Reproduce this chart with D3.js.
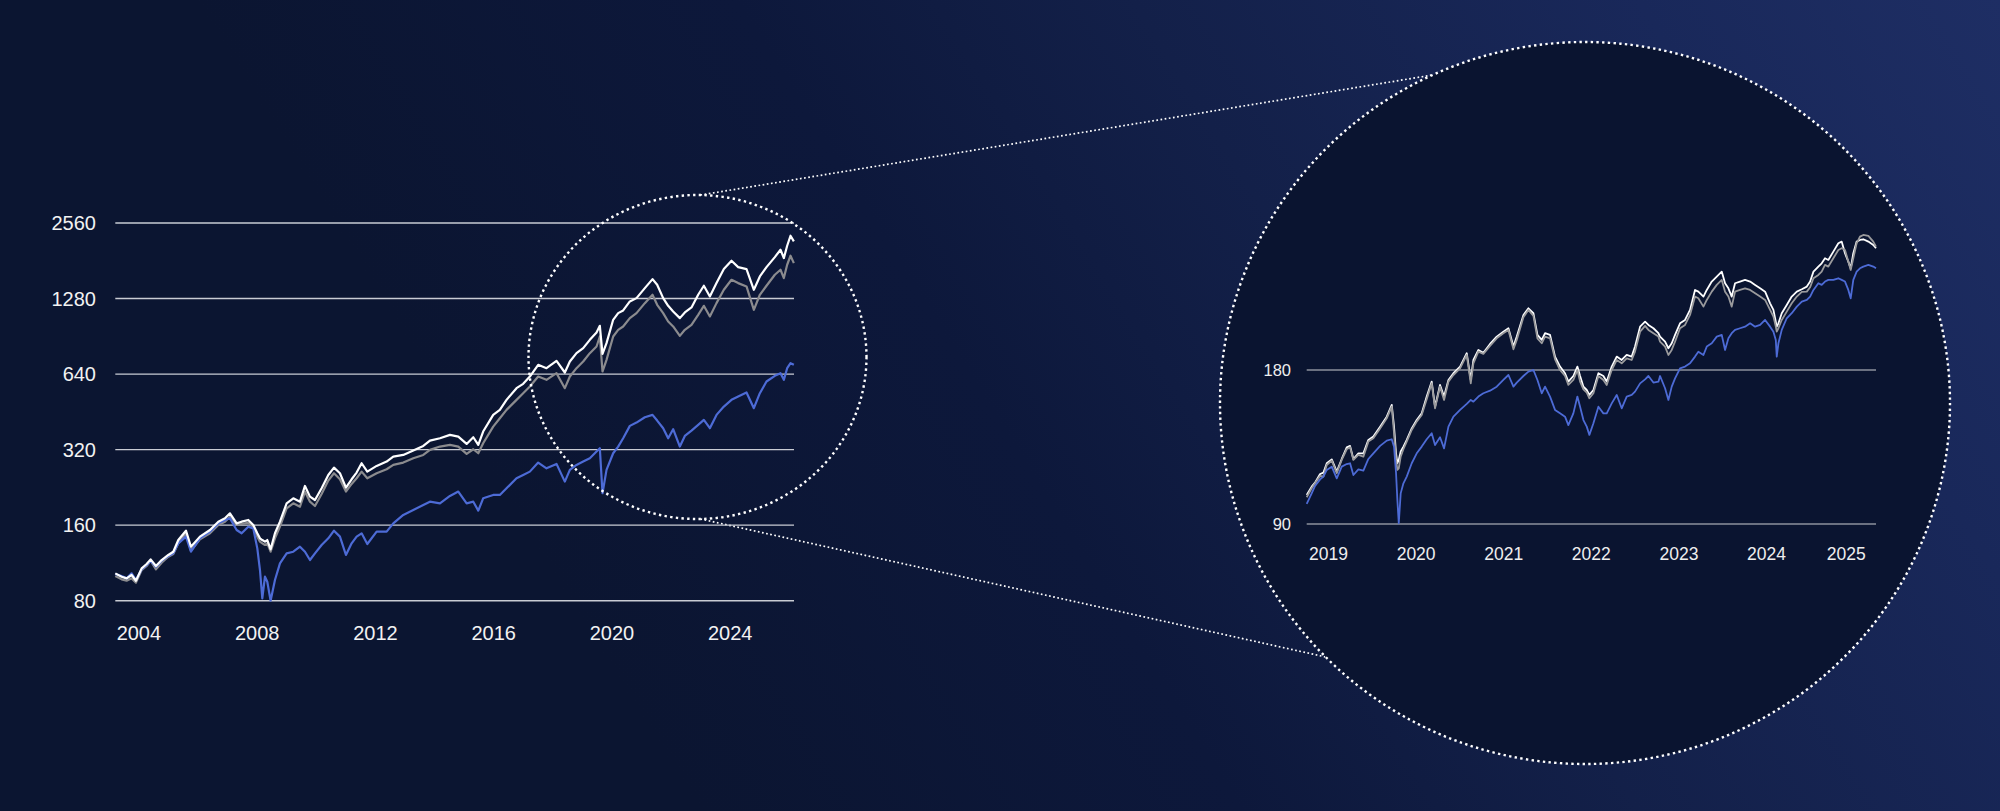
<!DOCTYPE html>
<html><head><meta charset="utf-8">
<script src="https://cdn.jsdelivr.net/npm/d3@7"></script>
<style>html,body{margin:0;padding:0;background:#0b1531;overflow:hidden}svg{display:block}</style>
</head><body><svg id="c" width="2000" height="811"></svg>
<script>
// ---------- MAIN CHART DATA (decimal year position, values on log scale) ----------
const mainYears = [2003.955,2004.169,2004.338,2004.507,2004.654,2004.846,2005.015,2005.150,2005.330,2005.522,
2005.747,2005.917,2006.086,2006.345,2006.514,2006.818,2007.157,2007.439,2007.664,2007.833,
2008.059,2008.228,2008.453,2008.622,2008.758,2008.848,2008.927,2009.017,2009.096,2009.208,
2009.355,2009.524,2009.750,2009.975,2010.201,2010.370,2010.539,2010.708,2010.933,2011.159,
2011.351,2011.553,2011.756,2011.948,2012.117,2012.286,2012.478,2012.794,2013.132,2013.357,
2013.695,2014.034,2014.372,2014.597,2014.936,2015.274,2015.556,2015.838,2016.063,2016.232,
2016.397,2016.736,2016.961,2017.187,2017.525,2017.750,2017.976,2018.258,2018.539,2018.878,
2019.159,2019.329,2019.554,2019.780,2020.005,2020.231,2020.343,2020.433,2020.569,2020.794,
2020.963,2021.132,2021.358,2021.583,2021.865,2022.125,2022.282,2022.485,2022.654,2022.823,
2023.049,2023.218,2023.443,2023.669,2023.861,2024.064,2024.289,2024.537,2024.796,2025.022,
2025.304,2025.552,2025.755,2025.980,2026.262,2026.454,2026.566,2026.679,2026.792,2026.905];
const mainWhite = [102.8,99.7,98.2,101.3,96.1,107.6,112.0,116.9,110.0,116.2,
121.7,125.4,139.6,152.1,131.3,144.0,153.1,165.2,170.4,178.4,
162.7,165.2,167.8,160.3,148.5,141.8,139.6,137.5,139.6,128.2,
148.5,165.2,195.5,204.7,198.5,229.3,207.9,201.6,224.4,253.6,
271.3,257.6,225.8,243.8,259.2,282.4,261.5,275.6,286.7,300.2,
304.8,317.2,331.1,347.7,355.2,366.3,360.7,337.2,358.5,334.1,
377.7,440.1,460.8,505.2,562.3,585.1,625.8,696.7,675.6,722.8,
649.3,718.3,775.4,811.8,876.4,937.5,996.7,770.7,849.9,1053.1,
1119.6,1147.3,1246.1,1285.0,1408.6,1529.9,1452.3,1285.0,1197.5,1136.8,
1069.4,1126.4,1179.3,1324.9,1439.1,1304.8,1474.7,1677.0,1810.4,1708.2,
1677.0,1387.2,1567.8,1708.2,1872.4,2002.8,1855.3,2077.7,2277.5,2162.0];
const mainGrey = [100.3,97.3,96.1,98.2,94.4,106.0,110.0,115.5,106.7,113.4,
119.8,122.8,135.4,148.5,126.6,140.5,148.5,160.3,165.2,173.0,
160.3,161.7,163.7,156.9,144.0,137.5,135.4,133.4,135.4,125.4,
141.8,157.8,186.8,195.5,189.6,217.7,198.5,190.8,213.0,240.8,
257.6,243.8,217.7,233.5,246.0,261.5,246.0,257.6,267.2,278.1,
284.1,295.6,304.8,319.2,329.1,334.1,329.1,307.6,321.1,309.5,
339.3,395.4,426.9,460.8,505.2,537.1,571.0,625.8,607.0,645.3,
562.3,625.8,675.6,718.3,775.4,824.3,903.6,655.2,729.4,903.6,
960.8,990.6,1069.4,1119.6,1227.2,1324.9,1208.5,1119.6,1037.1,990.6,
909.1,960.8,1005.9,1102.5,1197.5,1085.8,1227.2,1387.2,1520.5,1474.7,
1430.3,1154.3,1324.9,1439.1,1591.9,1666.8,1544.0,1745.2,1895.5,1772.1];
const mainBlue = [102.2,100.3,98.2,102.8,96.7,106.7,111.0,115.5,109.3,115.5,
120.6,123.5,135.4,144.0,125.4,141.8,150.8,162.7,167.8,170.4,
153.1,148.5,157.8,155.4,129.3,106.0,81.7,99.7,95.2,80.0,
96.7,112.7,123.5,125.4,131.3,125.4,116.2,123.5,133.4,141.8,
152.1,144.0,121.7,135.4,144.0,148.5,134.6,150.8,150.8,162.7,
175.7,183.9,192.6,198.5,195.5,209.2,217.7,195.5,198.5,182.8,
204.7,211.1,211.1,224.4,246.0,253.6,261.5,284.1,269.6,280.7,
238.6,265.6,278.1,286.7,295.6,314.3,324.1,214.4,265.6,309.5,
329.1,355.2,397.9,410.2,430.8,440.1,417.8,389.4,355.2,385.9,
329.1,362.9,381.2,401.5,420.4,389.4,440.1,475.1,505.2,520.9,
540.4,467.9,537.1,597.8,629.7,645.3,607.0,675.6,707.4,696.7];
const mainYTicks = [80,160,320,640,1280,2560];
const mainXTicks = [2004,2008,2012,2016,2020,2024];

// ---------- ZOOM CHART DATA (rebased to 100) ----------
const zoomYears = [2018.973,2019.030,2019.068,2019.126,2019.164,2019.202,2019.259,2019.316,2019.373,2019.430,
2019.468,2019.506,2019.563,2019.620,2019.677,2019.734,2019.811,2019.887,2019.944,2019.970,
2019.993,2020.008,2020.024,2020.046,2020.077,2020.115,2020.172,2020.229,2020.286,2020.343,
2020.400,2020.438,2020.495,2020.541,2020.591,2020.648,2020.724,2020.800,2020.846,2020.876,
2020.933,2020.990,2021.066,2021.142,2021.218,2021.276,2021.333,2021.371,2021.447,2021.504,
2021.561,2021.607,2021.656,2021.694,2021.751,2021.808,2021.865,2021.922,2021.960,2022.017,
2022.063,2022.094,2022.132,2022.170,2022.200,2022.246,2022.303,2022.360,2022.398,2022.455,
2022.512,2022.569,2022.626,2022.683,2022.721,2022.779,2022.836,2022.874,2022.931,2022.988,
2023.007,2023.064,2023.102,2023.140,2023.178,2023.235,2023.292,2023.349,2023.406,2023.444,
2023.502,2023.540,2023.597,2023.654,2023.711,2023.749,2023.787,2023.825,2023.863,2023.920,
2023.977,2024.035,2024.092,2024.149,2024.206,2024.263,2024.301,2024.328,2024.339,2024.358,
2024.396,2024.453,2024.510,2024.568,2024.625,2024.682,2024.720,2024.758,2024.814,2024.852,
2024.890,2024.928,2024.985,2025.042,2025.080,2025.118,2025.156,2025.183,2025.213,2025.251,
2025.289,2025.327,2025.385,2025.441,2025.472];
const zoomWhite = [102.6,106.5,108.4,112.7,113.4,118.3,120.4,113.9,120.6,127.1,
127.9,120.6,123.7,123.7,131.4,133.4,139.5,145.9,153.8,139.5,
123.7,118.3,120.1,124.7,127.5,131.4,138.4,143.7,148.1,159.7,
170.8,152.6,168.3,159.7,172.1,177.4,182.8,194.1,172.1,188.3,
197.0,194.6,202.4,209.2,213.9,217.2,200.0,209.2,230.6,237.6,
232.4,210.8,206.1,212.4,210.8,191.2,182.8,177.4,170.8,175.2,
182.8,175.2,167.0,164.5,160.9,164.5,177.4,175.2,170.8,182.8,
191.2,188.3,192.6,191.2,200.0,218.8,223.8,220.5,217.2,212.4,
209.2,204.5,198.5,203.0,210.8,222.1,225.5,235.9,258.1,256.1,
250.5,258.1,268.0,274.1,280.3,266.0,260.0,250.5,266.0,268.0,
270.0,268.0,264.0,260.0,256.1,243.0,235.9,223.8,218.8,222.1,
232.4,241.2,250.5,256.1,258.9,262.0,268.0,280.3,286.7,291.0,
297.6,295.4,306.7,318.4,320.8,304.4,293.2,284.5,304.4,320.8,
323.2,324.2,320.8,316.0,311.4];
const zoomGrey = [101.5,105.7,108.1,111.7,111.4,117.4,119.7,113.1,120.1,126.0,
127.1,120.1,122.8,121.9,130.4,132.4,138.4,144.8,152.6,135.4,
120.1,114.8,115.6,121.9,126.0,130.4,137.4,142.7,147.0,157.8,
169.5,151.5,167.0,157.3,170.8,176.0,181.4,192.6,169.5,185.5,
195.5,193.5,200.6,207.6,212.4,215.6,197.6,206.1,228.2,235.9,
229.6,207.6,203.0,209.2,207.6,188.9,180.0,175.2,168.3,172.1,
180.0,170.8,165.0,162.6,158.5,162.1,175.2,172.1,168.3,180.0,
188.3,185.5,189.7,188.3,195.5,213.9,219.5,215.6,212.4,209.2,
204.5,200.0,192.6,197.0,204.5,217.2,220.5,230.6,250.5,248.6,
239.4,246.7,256.1,264.0,270.0,256.1,250.5,239.4,256.1,258.1,
260.0,258.1,254.2,250.5,246.7,235.9,228.9,218.8,213.9,217.2,
225.5,234.1,243.0,250.5,255.8,256.1,261.2,272.0,276.1,280.3,
288.9,286.7,297.6,309.0,311.4,309.0,293.2,282.4,297.6,318.4,
328.1,330.6,329.1,320.8,313.7];
const zoomBlue = [98.5,103.3,106.8,110.0,111.4,114.8,116.5,110.5,116.5,117.9,
118.3,112.2,115.1,114.4,120.6,123.7,127.9,131.0,131.8,127.5,
113.1,100.3,90.3,103.3,108.1,111.4,118.3,123.7,127.5,131.8,
135.4,128.4,133.0,126.5,139.5,145.9,150.4,154.5,157.3,156.1,
159.7,162.1,164.0,167.0,172.1,176.0,167.0,170.1,175.2,178.7,
180.0,172.1,162.1,167.0,159.7,150.4,148.1,145.9,140.5,148.1,
159.7,152.6,143.7,139.5,134.4,141.6,152.6,148.1,148.1,154.9,
160.9,151.5,159.7,160.9,163.3,169.5,172.6,175.2,170.1,170.8,
175.2,165.8,157.3,167.0,173.4,181.4,182.8,185.5,191.2,195.5,
192.6,200.0,203.0,209.2,210.8,197.0,207.6,212.4,215.6,217.2,
218.8,222.1,218.8,220.5,225.5,218.8,213.9,206.1,191.2,203.0,
215.6,227.2,232.4,239.4,244.9,246.7,250.5,258.1,266.0,264.0,
268.0,270.0,270.0,272.0,270.0,268.0,258.1,248.6,270.0,280.3,
284.5,286.7,288.9,286.7,284.5];
const zoomYTicks = [90,180];
const zoomXTickPos = [2019,2020,2021,2022,2023,2024,2024.91];
const zoomXTickLabels = ["2019","2020","2021","2022","2023","2024","2025"];

// ---------- STYLE / LAYOUT ----------
const W = 2000, H = 811;
const FONT = "'Helvetica Neue', Helvetica, 'Liberation Sans', Arial, sans-serif";
const COL_WHITE = "#ffffff", COL_GREY = "#8b8b8e", COL_BLUE = "#4d6bd6";

const svg = d3.select("#c");
const defs = svg.append("defs");
const bg = defs.append("linearGradient").attr("id","bg")
  .attr("gradientUnits","userSpaceOnUse").attr("x1",700).attr("y1",811).attr("x2",2000).attr("y2",0);
[[0,"#0b1531"],[0.3,"#0d183b"],[0.52,"#132049"],[0.8,"#19285a"],[1,"#1e2e64"]]
  .forEach(([o,c])=>bg.append("stop").attr("offset",o).attr("stop-color",c));
svg.append("rect").attr("width",W).attr("height",H).attr("fill","url(#bg)");

// big zoom circle geometry
const big = {cx:1585, cy:403, rx:365, ry:361};
const small = {cx:697.5, cy:357, rx:169, ry:162};
const onEllipse = (e, deg) => [e.cx + e.rx*Math.cos(deg*Math.PI/180), e.cy + e.ry*Math.sin(deg*Math.PI/180)];

// connector lines
const connectors = [[onEllipse(small,-89), onEllipse(big,-114.7)], [onEllipse(small,89), onEllipse(big,135.3)]];
svg.selectAll(".conn").data(connectors).join("line").attr("class","conn")
  .attr("x1",d=>d[0][0]).attr("y1",d=>d[0][1]).attr("x2",d=>d[1][0]).attr("y2",d=>d[1][1])
  .attr("stroke","#ffffff").attr("stroke-width",1.7).attr("stroke-dasharray","1.7 2.5");

// big circle background
svg.append("ellipse").attr("cx",big.cx).attr("cy",big.cy).attr("rx",big.rx).attr("ry",big.ry)
  .attr("fill","#0a1430");

// ---------- MAIN CHART ----------
const mx = d3.scaleLinear().domain([2003.955, 2026.91]).range([115.3, 794]);
const my = d3.scaleLog().base(2).domain([80, 2560]).range([600.7, 223]);
const gMain = svg.append("g");
gMain.selectAll(".mgrid").data(mainYTicks).join("line")
  .attr("x1",mx.range()[0]).attr("x2",mx.range()[1])
  .attr("y1",d=>my(d)).attr("y2",d=>my(d))
  .attr("stroke","#c9ccd4").attr("stroke-width",1.4);
gMain.selectAll(".mylab").data(mainYTicks).join("text")
  .attr("x",96).attr("y",d=>my(d)).attr("dy","0.35em").attr("text-anchor","end")
  .attr("fill","#f2f2f2").attr("font-family",FONT).attr("font-size",20).text(d=>d);
gMain.selectAll(".mxlab").data(mainXTicks).join("text")
  .attr("x",d=>mx(d)).attr("y",640).attr("text-anchor","start")
  .attr("fill","#f2f2f2").attr("font-family",FONT).attr("font-size",20).text(d=>d);

const mline = d3.line().x((d,i)=>mx(mainYears[i])).y(d=>my(d)).curve(d3.curveLinear);
[[mainGrey,COL_GREY],[mainBlue,COL_BLUE],[mainWhite,COL_WHITE]].forEach(([s,c])=>{
  gMain.append("path").attr("d",mline(s)).attr("fill","none").attr("stroke",c)
    .attr("stroke-width",2.2).attr("stroke-linejoin","round");
});

// small dotted ellipse
svg.append("ellipse").attr("cx",small.cx).attr("cy",small.cy).attr("rx",small.rx).attr("ry",small.ry)
  .attr("fill","none").attr("stroke","#ffffff").attr("stroke-width",2.4).attr("stroke-dasharray","2.4 3.3");

// ---------- ZOOM CHART ----------
const zx = d3.scaleLinear().domain([2018.973, 2025.472]).range([1306.7, 1876]);
const zy = d3.scaleLog().base(2).domain([90, 180]).range([524, 370]);
const gZoom = svg.append("g");
gZoom.selectAll(".zgrid").data(zoomYTicks).join("line")
  .attr("x1",zx.range()[0]).attr("x2",zx.range()[1])
  .attr("y1",d=>zy(d)).attr("y2",d=>zy(d))
  .attr("stroke","#8d919c").attr("stroke-width",1.4);
gZoom.selectAll(".zylab").data(zoomYTicks).join("text")
  .attr("x",1291).attr("y",d=>zy(d)).attr("dy","0.35em").attr("text-anchor","end")
  .attr("fill","#eeeeee").attr("font-family",FONT).attr("font-size",16.5).text(d=>d);
gZoom.selectAll(".zxlab").data(zoomXTickPos).join("text")
  .attr("x",d=>zx(d)).attr("y",560).attr("text-anchor","start")
  .attr("fill","#eeeeee").attr("font-family",FONT).attr("font-size",17.5)
  .text((d,i)=>zoomXTickLabels[i]);

const zline = d3.line().x((d,i)=>zx(zoomYears[i])).y(d=>zy(d));
[[zoomWhite,COL_WHITE],[zoomGrey,"#9a9a9c"],[zoomBlue,COL_BLUE]].forEach(([s,c])=>{
  gZoom.append("path").attr("d",zline(s)).attr("fill","none").attr("stroke",c)
    .attr("stroke-width",1.8).attr("stroke-linejoin","round");
});

// big dotted circle outline
svg.append("ellipse").attr("cx",big.cx).attr("cy",big.cy).attr("rx",big.rx).attr("ry",big.ry)
  .attr("fill","none").attr("stroke","#ffffff").attr("stroke-width",2.4).attr("stroke-dasharray","2.4 3.3");
</script>
</body></html>
